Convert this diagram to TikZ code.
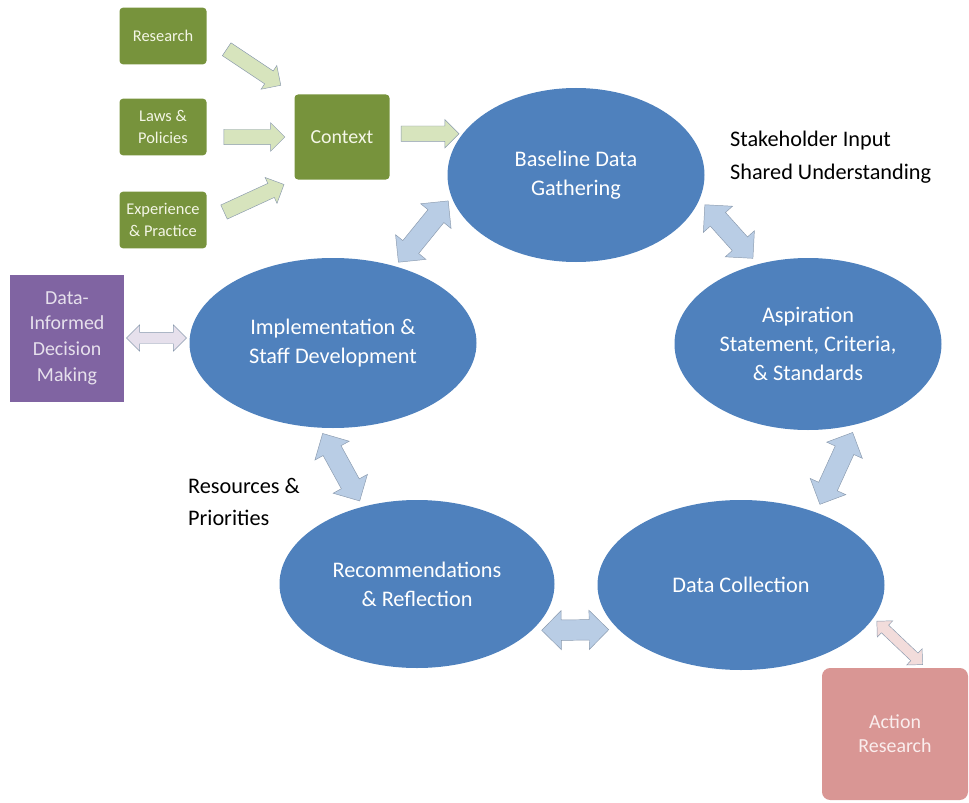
\documentclass[tikz,border=0pt]{standalone}
\usepackage{fontspec}
\setmainfont{Carlito}
\usetikzlibrary{shapes.geometric,shapes.arrows}

\definecolor{leafgreen}{HTML}{77933C}
\definecolor{leaftext}{HTML}{F4F6E6}
\definecolor{ovalblue}{HTML}{4F81BD}
\definecolor{plum}{HTML}{8064A2}
\definecolor{rosebox}{HTML}{D99694}
\definecolor{rosetext}{HTML}{FAEDED}
\definecolor{palegreen}{HTML}{D7E4BD}
\definecolor{paleblue}{HTML}{B9CDE5}
\definecolor{palelilac}{HTML}{E6E0EC}
\definecolor{palerose}{HTML}{F2DCDB}
\definecolor{arrowedge}{HTML}{8A9AAE}

\tikzset{
  srcbox/.style={rectangle,rounded corners=3pt,fill=leafgreen,text=leaftext,align=center,
    inner sep=0pt,minimum width=26.1mm,minimum height=17mm,font=\fontsize{14}{19}\selectfont},
  stage/.style={ellipse,fill=ovalblue,text=white,align=center,inner sep=0pt,
    font=\fontsize{19}{25}\selectfont},
  greenarrow/.style={single arrow,draw=arrowedge,fill=palegreen,sloped,allow upside down,
    inner xsep=0pt,inner ysep=2.25mm,single arrow head extend=1.95mm},
  bluearrow/.style={double arrow,draw=arrowedge,fill=paleblue,sloped,allow upside down,
    inner xsep=0pt,inner ysep=3mm,double arrow head extend=2.8mm},
  lilacarrow/.style={double arrow,draw=arrowedge,fill=palelilac,sloped,allow upside down,
    inner xsep=0pt,inner ysep=1.65mm,double arrow head extend=2.2mm,minimum height=18mm},
  rosearrow/.style={double arrow,draw=arrowedge,fill=palerose,sloped,allow upside down,
    inner xsep=0pt,inner ysep=1.5mm,double arrow head extend=1.8mm,minimum height=18.9mm},
}

\begin{document}
\begin{tikzpicture}[x=0.3mm,y=-0.3mm]
\useasboundingbox (0,0) rectangle (969,803);

% sources of context
\node[srcbox] (research) at (163,36) {Research};
\node[srcbox] (laws) at (163,127) {Laws \&\\Policies};
\node[srcbox] (practice) at (163,220) {Experience\\\& Practice};
\node[srcbox,minimum width=28.5mm,minimum height=25.5mm,font=\fontsize{17}{20}\selectfont] (context) at (342,137) {Context};

% the cycle
\node[stage,minimum width=77.1mm,minimum height=52.2mm] (baseline) at (576,175) {Baseline Data\\Gathering};
\node[stage,minimum width=80.1mm,minimum height=51.6mm] (aspiration) at (808,344) {Aspiration\\Statement, Criteria,\\\& Standards};
\node[stage,minimum width=86.1mm,minimum height=51mm] (collection) at (741,585) {Data Collection};
\node[stage,minimum width=82.5mm,minimum height=50.4mm] (reflection) at (417,584) {Recommendations\\\& Reflection};
\node[stage,minimum width=86.1mm,minimum height=51mm] (implement) at (333,343) {Implementation \&\\Staff Development};

% side boxes
\node[rectangle,fill=plum,text=palelilac,align=center,minimum width=33.9mm,minimum height=38.1mm,
  font=\fontsize{17}{22}\selectfont] (informed) at (67,338) {Data-\\Informed\\Decision\\Making};
\node[rectangle,rounded corners=7pt,fill=rosebox,text=rosetext,align=center,minimum width=43.8mm,
  minimum height=39.6mm,font=\fontsize{17}{20.5}\selectfont] (action) at (895,734) {Action\\Research};

% labels
\node[anchor=west,align=left,font=\fontsize{19}{28}\selectfont] (stakeholder) at (726,157) {Stakeholder Input\\Shared Understanding};
\node[anchor=west,align=left,font=\fontsize{19}{28}\selectfont] (resources) at (184,502) {Resources \&\\Priorities};

% arrows into context
\path (research.east) -- node[greenarrow,minimum height=19.5mm] {} (context.north west);
\path (laws.east |- context.west) -- node[greenarrow,minimum height=18.3mm] {} (context.west);
\path (practice.east) -- node[greenarrow,minimum height=19.8mm] {} (context.south west);
\path (context.east |- baseline.160) -- node[greenarrow,minimum height=17.4mm] {} (baseline.160);

% arrows of the cycle
\path (baseline.349) -- node[bluearrow,minimum height=21.6mm] {} (aspiration.122);
\path (aspiration.301) -- node[bluearrow,minimum height=23.7mm] {} (collection.44);
\path (collection.200) -- node[bluearrow,minimum height=20.1mm] {} (reflection.338);
\path (reflection.125) -- node[bluearrow,minimum height=23.1mm] {} (implement.261);
\path (implement.51) -- node[bluearrow,minimum height=23.7mm] {} (baseline.190);

% side arrows
\path (informed.east) -- node[lilacarrow] {} (informed.east -| implement.west);
\path (collection.346) -- node[rosearrow] {} (action.65);
\end{tikzpicture}
\end{document}
